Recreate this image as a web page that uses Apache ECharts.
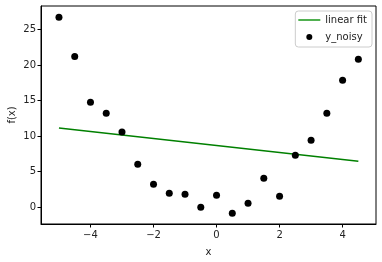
<!DOCTYPE html>
<html><head><meta charset="utf-8">
<script src="https://cdn.jsdelivr.net/npm/echarts@6/dist/echarts.min.js"></script>
<style>html,body{margin:0;padding:0;background:#fff}#c{width:382px;height:262px}</style>
</head><body><div id="c"></div>
<script>
const xValues = [-5, -4.5, -4, -3.5, -3, -2.5, -2, -1.5, -1, -0.5, 0, 0.5, 1, 1.5, 2, 2.5, 3, 3.5, 4, 4.5];
const yNoisy = [26.7, 21.2, 14.75, 13.2, 10.55, 6.0, 3.2, 1.93, 1.79, -0.05, 1.65, -0.89, 0.52, 4.04, 1.5, 7.28, 9.39, 13.2, 17.84, 20.8];
const fitX = [-5, 4.5];
const fitY = [11.13, 6.45];
const xTicks = [-4, -2, 0, 2, 4];
const yTicks = [0, 5, 10, 15, 20, 25];

const font = 'DejaVu Sans';
const fmt = v => String(v).replace('-', '\u2212');
const chart = echarts.init(document.getElementById('c'));
chart.setOption({
  animation: false,
  grid: {left: 41, right: 6, top: 6, bottom: 38, containLabel: false, outerBoundsMode: 'none', show: true, borderColor: '#000', borderWidth: 1, backgroundColor: 'transparent'},
  xAxis: {
    type: 'value', min: -5.57, max: 5.06,
    name: 'x', nameLocation: 'middle', nameGap: 23, nameMoveOverlap: false,
    nameTextStyle: {fontFamily: font, fontSize: 10, color: '#222'},
    axisLine: {show: true, onZero: false, lineStyle: {color: '#000'}},
    axisTick: {show: true, length: 3.5, customValues: xTicks, lineStyle: {color: '#000'}},
    axisLabel: {customValues: xTicks, formatter: fmt, fontFamily: font, fontSize: 10, color: '#222', margin: 6},
    splitLine: {show: false}
  },
  yAxis: {
    type: 'value', min: -2.4, max: 28.3,
    name: 'f(x)', nameLocation: 'middle', nameGap: 24, nameRotate: 90, nameMoveOverlap: false,
    nameTextStyle: {fontFamily: font, fontSize: 10, color: '#222'},
    axisLine: {show: true, onZero: false, lineStyle: {color: '#000'}},
    axisTick: {show: true, length: 3.5, customValues: yTicks, lineStyle: {color: '#000'}},
    axisLabel: {customValues: yTicks, formatter: fmt, fontFamily: font, fontSize: 10, color: '#222', margin: 5},
    splitLine: {show: false}
  },
  legend: {
    orient: 'vertical', right: 10, top: 11,
    backgroundColor: '#fff', borderColor: '#ccc', borderWidth: 1, borderRadius: 3,
    padding: [4, 5, 5, 3], itemGap: 7, itemWidth: 22, itemHeight: 6,
    textStyle: {fontFamily: font, fontSize: 10, color: '#222'},
    data: [{name: 'linear fit', icon: 'path://M0,0h40v3h-40z', itemStyle: {color: '#2ca02c'}}, {name: 'y_noisy', icon: 'circle', itemStyle: {color: '#000'}}]
  },
  series: [
    {name: 'linear fit', type: 'line', data: fitX.map((x, i) => [x, fitY[i]]),
     symbol: 'none', lineStyle: {color: '#008000', width: 1.5}, itemStyle: {color: '#008000'}, z: 2},
    {name: 'y_noisy', type: 'scatter', data: xValues.map((x, i) => [x, yNoisy[i]]),
     symbol: 'circle', symbolSize: 7, itemStyle: {color: '#000', opacity: 1}, z: 3}
  ]
});
</script></body></html>
